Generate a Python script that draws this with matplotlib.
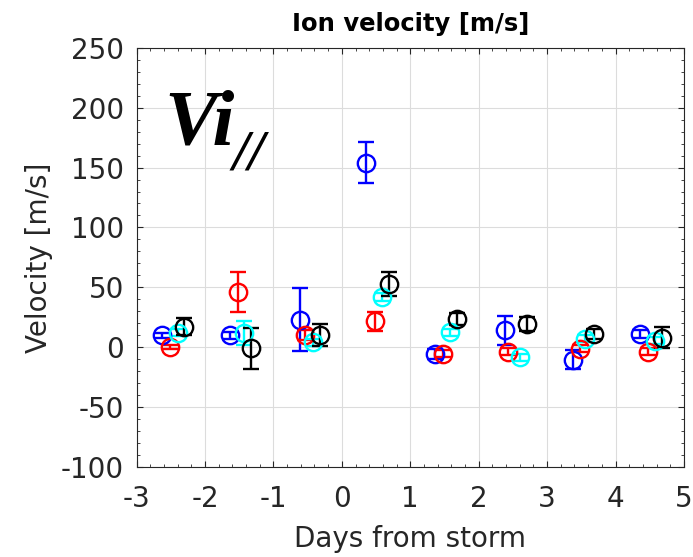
import numpy as np
import matplotlib
matplotlib.use("Agg")
import matplotlib.pyplot as plt
from matplotlib.ticker import MultipleLocator

plt.rcParams["axes.unicode_minus"] = False

# days from storm for each series
x_blue = [-2.63, -1.64, -0.61, 0.36, 1.36, 2.38, 3.38, 4.36]
x_red = [-2.51, -1.51, -0.54, 0.48, 1.48, 2.43, 3.48, 4.48]
x_cyan = [-2.39, -1.43, -0.42, 0.58, 1.58, 2.60, 3.55, 4.58]
x_black = [-2.30, -1.32, -0.32, 0.69, 1.68, 2.70, 3.68, 4.68]

# velocity values and errors [m/s]
v_blue = [9.7, 9.7, 23, 154, -5.6, 14, -10.6, 11]
e_blue = [2, 3, 26, 17, 4, 12, 8, 3]
v_red = [0, 46, 10, 21.7, -5.6, -4, -1.4, -4]
e_red = [2, 17, 4, 8, 3, 3, 3, 3]
v_cyan = [12, 12, 4, 41.8, 12.5, -8.5, 7, 5.5]
e_cyan = [3, 10, 3, 3, 3, 3, 3, 3]
v_black = [17, -1, 10, 53, 23.7, 19.5, 11, 8]
e_black = [7, 17, 9, 10, 5, 6, 4, 9]

xticks = [-3, -2, -1, 0, 1, 2, 3, 4, 5]
yticks = [-100, -50, 0, 50, 100, 150, 200, 250]

fig = plt.figure(figsize=(6.93, 5.57), dpi=100)
ax = fig.add_axes([0.197, 0.162, 0.790, 0.752])

for xs, vs, es, col in [(x_blue, v_blue, e_blue, "blue"),
                        (x_red, v_red, e_red, "red"),
                        (x_cyan, v_cyan, e_cyan, "cyan"),
                        (x_black, v_black, e_black, "black")]:
    ax.errorbar(xs, vs, yerr=es, fmt="o", color=col, mfc="none",
                markersize=12.5, mew=1.7, elinewidth=1.7, capsize=6,
                capthick=1.7, zorder=3)

ax.set_xlim(-3, 5)
ax.set_ylim(-100, 250)
ax.set_xticks(xticks)
ax.set_yticks(yticks)
ax.xaxis.set_minor_locator(MultipleLocator(0.2))
ax.yaxis.set_minor_locator(MultipleLocator(10))
ax.grid(True, which="major", color="#dcdcdc", linewidth=0.8)
ax.set_axisbelow(True)
ax.tick_params(which="both", direction="in", top=True, right=True,
               colors="#262626", labelsize=20, pad=9)
ax.tick_params(axis="x", pad=13)
ax.tick_params(which="major", length=4, width=0.8)
ax.tick_params(which="minor", length=2.5, width=0.6)
for s in ax.spines.values():
    s.set_color("#262626")
    s.set_linewidth(0.8)

ax.set_xlabel("Days from storm", fontsize=20, color="#262626", labelpad=9)
ax.set_ylabel("Velocity [m/s]", fontsize=20, color="#262626", labelpad=6)
ax.set_title("Ion velocity [m/s]", fontsize=17.5, fontweight="bold", pad=12)

# panel label Vi with // subscript
ax.text(0.050, 0.772, "Vi", transform=ax.transAxes, fontsize=57, va="baseline",
        family="Liberation Serif", fontweight="bold", style="italic")
ax.text(0.176, 0.709, "//", transform=ax.transAxes, fontsize=42, va="baseline",
        family="Liberation Serif", fontweight="bold", style="italic")

fig.savefig("out.png", dpi=100)
